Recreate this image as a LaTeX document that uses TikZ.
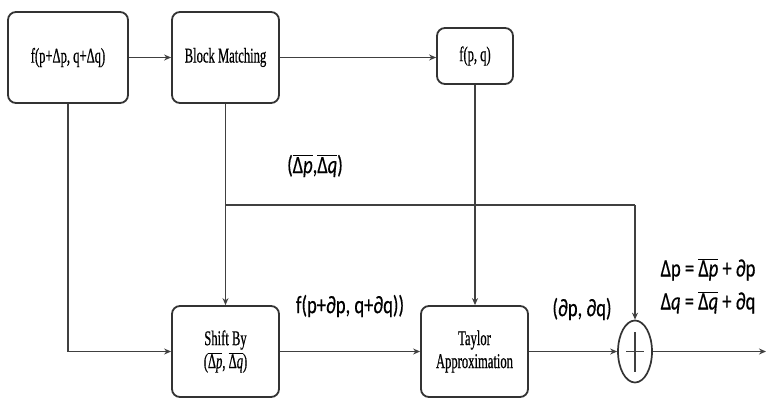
\documentclass[tikz,border=0pt]{standalone}
\usepackage{fontspec}
\setmainfont{Carlito}
\newfontfamily\boxfont[FakeStretch=0.6,FakeBold=0.6]{Liberation Serif}
\newfontfamily\labfont[FakeStretch=0.74,FakeBold=0.4]{Carlito}
\usetikzlibrary{arrows.meta,shapes.geometric}
\newcommand{\ob}[1]{$\overline{\mbox{#1}}$}
\begin{document}
\begin{tikzpicture}[x=1pt,y=-1pt,
  blk/.style={draw=black!80, line width=1.8pt, rounded corners=8pt, minimum width=#1, minimum height=91pt, inner sep=0pt, align=center, font=\boxfont\fontsize{21}{23}\selectfont},
  line/.style={draw=black!75, line width=1.7pt},
  arr/.style={line, -{Stealth[length=7pt,width=6pt]}},
  lab/.style={font=\labfont\fontsize{25}{33}\selectfont, inner sep=0pt, align=center}]
\useasboundingbox (0,0) rectangle (767,402);
\node[blk=120pt] (b1) at (68,57.5) {f(p+Δp, q+Δq)};
\node[blk=107pt] (b2) at (225.5,57.5) {Block Matching};
\node[blk=76pt, minimum height=56pt] (b3) at (475,56) {f(p, q)};
\node[blk=107pt] (b4) at (225.5,351.5) {Shift By\\(\ob{Δ\textit{p}}, \ob{Δ\textit{q}})};
\node[blk=107pt] (b5) at (474.5,351.5) {Taylor\\Approximation};
\node[draw=black!80, line width=1.7pt, ellipse, minimum width=34pt, minimum height=62pt, inner sep=0pt] (s) at (635,351.5) {};
\draw[line] ([xshift=-9pt]s.center) -- ([xshift=9pt]s.center);
\draw[line] ([yshift=-20pt]s.center) -- ([yshift=20pt]s.center);
\coordinate (j) at (225.5,205);
\coordinate (c) at (635,205);
\coordinate (out) at (766,351.5);
\draw[arr] (b1) -- (b2);
\draw[arr] (b2.east) -- (b2.east -| b3.west);
\draw[arr] (b1.south) |- (b4.west);
\draw[arr] (b2.south) -- (b4.north);
\draw[arr] (b3.south) -- (b3.south |- b5.north);
\draw[arr] (b4) -- (b5);
\draw[line] (j) -- (c);
\draw[arr] (c) -- (s.north);
\draw[arr] (b5) -- (s);
\draw[arr] (s) -- (out);
\node[lab] (l1) at (315,166) {(\ob{Δ\textit{p}},\ob{Δ\textit{q}})};
\node[lab] (l2) at (350,306) {f(p+∂p, q+∂q))};
\node[lab] (l3) at (582,309) {(∂p, ∂q)};
\node[lab] (l4) at (708,286) {Δp = \ob{Δ\textit{p}} + ∂p\\Δ\textit{q} = \ob{Δ\textit{q}} + ∂q};
\end{tikzpicture}
\end{document}
